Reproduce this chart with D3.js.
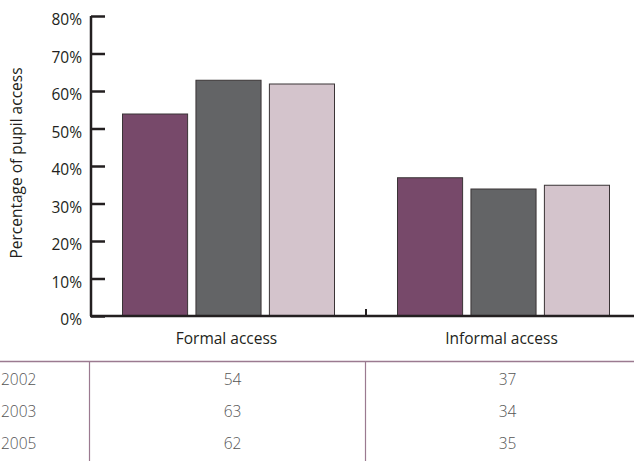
<!DOCTYPE html>
<html><head><meta charset="utf-8">
<script src="https://cdn.jsdelivr.net/npm/d3@7"></script>
<style>body{margin:0;background:#fff}svg{display:block}</style>
</head><body>
<svg id="c" width="634" height="461"></svg>
<script>
const categories = ["Formal access", "Informal access"];
const years = ["2002", "2003", "2005"];
const values2002 = [54, 37];
const values2003 = [63, 34];
const values2005 = [62, 35];
const yTicks = [0, 10, 20, 30, 40, 50, 60, 70, 80];
const colors = ["#77496a", "#636466", "#d4c4cc"];
const seriesValues = [values2002, values2003, values2005];

const svg = d3.select("#c");
const font = "'Open Sans', sans-serif";
const fs = 15.5;
const x0 = 91, yBottom = 316, yTop = 16;

const y = d3.scaleLinear().domain([0, 80]).range([yBottom, yTop]);
const xBand = d3.scaleBand().domain(categories).range([x0, x0 + 550]).paddingInner(0).paddingOuter(0);
const xInner = d3.scaleBand().domain(years).range([31, 275 - 31]).paddingInner(0.1).paddingOuter(0);

// bars
const g = svg.append("g");
categories.forEach((cat, ci) => {
  years.forEach((yr, si) => {
    const v = seriesValues[si][ci];
    g.append("rect")
      .attr("x", xBand(cat) + xInner(yr) + 0.5)
      .attr("y", y(v) + 0.5)
      .attr("width", xInner.bandwidth() - 1)
      .attr("height", yBottom - y(v) - 0.5)
      .attr("fill", colors[si])
      .attr("stroke", "#3a3436")
      .attr("stroke-width", 1);
  });
});

// y axis
const yAxis = d3.axisRight(y).tickValues(yTicks).tickSize(14).tickFormat("");
const ya = svg.append("g").attr("transform", `translate(${x0},0)`).call(yAxis);
ya.select(".domain").attr("stroke", "#231f20").attr("stroke-width", 2.5).attr("d", `M0,${yTop}V${yBottom}`);
ya.selectAll(".tick line").attr("stroke", "#231f20").attr("stroke-width", 2.5);

svg.append("g").selectAll("text").data(yTicks).join("text")
  .attr("x", 82).attr("y", d => y(d) + 5)
  .attr("text-anchor", "end").attr("dominant-baseline", "middle")
  .attr("font-family", font).attr("font-size", fs).attr("fill", "#231f20")
  .text(d => d + "%");

// x axis
const xAxis = d3.axisTop(xBand).tickSize(0).tickFormat("");
const xa = svg.append("g").attr("transform", `translate(0,${yBottom})`).call(xAxis);
xa.select(".domain").attr("stroke", "#231f20").attr("stroke-width", 2.5).attr("d", `M${x0 - 1},0H634`);
xa.selectAll(".tick").remove();
xa.append("line").attr("x1", xBand(categories[1])).attr("x2", xBand(categories[1]))
  .attr("y1", 0).attr("y2", -7).attr("stroke", "#231f20").attr("stroke-width", 2);

svg.append("g").selectAll("text").data(categories).join("text")
  .attr("x", d => xBand(d) + xBand.bandwidth() / 2 - 2).attr("y", 340)
  .attr("text-anchor", "middle").attr("dominant-baseline", "middle")
  .attr("font-family", font).attr("font-size", fs).attr("fill", "#231f20")
  .text(d => d);

// y title
svg.append("text")
  .attr("transform", "translate(18,163) rotate(-90)")
  .attr("text-anchor", "middle").attr("dominant-baseline", "middle")
  .attr("font-family", font).attr("font-size", fs).attr("fill", "#231f20")
  .text("Percentage of pupil access");

// table
const lineColor = "#9b7a90";
svg.append("line").attr("x1", 0).attr("x2", 634).attr("y1", 361.5).attr("y2", 361.5)
  .attr("stroke", lineColor).attr("stroke-width", 1.5);
[89.5, 365.5].forEach(xx => {
  svg.append("line").attr("x1", xx).attr("x2", xx).attr("y1", 361).attr("y2", 461)
    .attr("stroke", lineColor).attr("stroke-width", 1.2);
});
const rowY = d3.scalePoint().domain(years).range([381, 445]);
years.forEach((yr, si) => {
  svg.append("text").attr("x", 1).attr("y", rowY(yr))
    .attr("text-anchor", "start").attr("dominant-baseline", "middle")
    .attr("font-family", font).attr("font-size", fs).attr("font-weight", 300).attr("fill", "#555")
    .text(yr);
  categories.forEach((cat, ci) => {
    svg.append("text").attr("x", xBand(cat) + xBand.bandwidth() / 2 + 4).attr("y", rowY(yr))
      .attr("text-anchor", "middle").attr("dominant-baseline", "middle")
      .attr("font-family", font).attr("font-size", fs).attr("font-weight", 300).attr("fill", "#555")
      .text(seriesValues[si][ci]);
  });
});
</script>
</body></html>
